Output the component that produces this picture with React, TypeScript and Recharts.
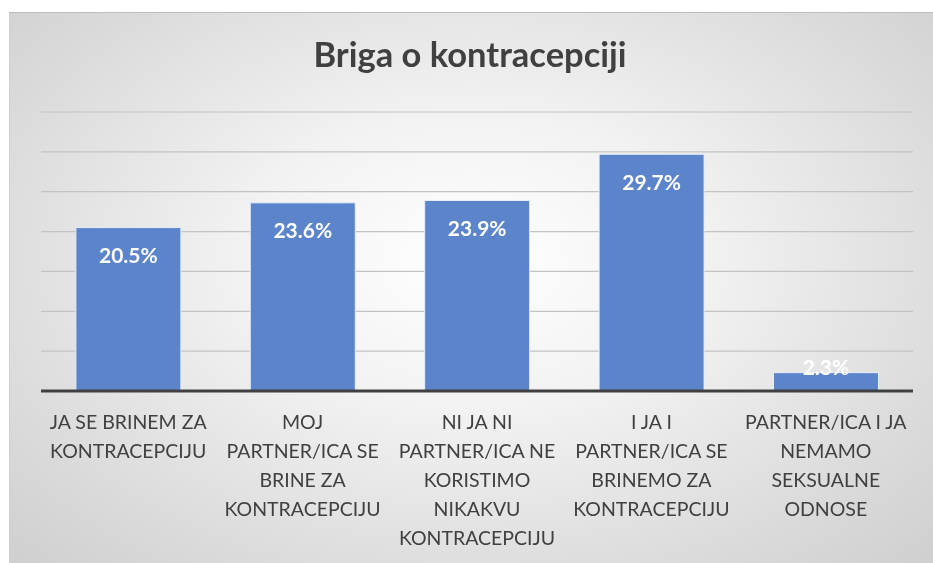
import React from "react";
import { BarChart, Bar, XAxis, YAxis, CartesianGrid, LabelList, ReferenceLine } from "recharts";

const categories = [
  "JA SE BRINEM ZA\nKONTRACEPCIJU",
  "MOJ\nPARTNER/ICA SE\nBRINE ZA\nKONTRACEPCIJU",
  "NI JA NI\nPARTNER/ICA NE\nKORISTIMO\nNIKAKVU\nKONTRACEPCIJU",
  "I JA I\nPARTNER/ICA SE\nBRINEMO ZA\nKONTRACEPCIJU",
  "PARTNER/ICA I JA\nNEMAMO\nSEKSUALNE\nODNOSE",
];
const values = [20.5, 23.6, 23.9, 29.7, 2.3];
const yTicks = [0, 5, 10, 15, 20, 25, 30, 35];
const title = "Briga o kontracepciji";

const data = categories.map((c, i) => ({ name: c, value: values[i] }));

const FONT = "Lato, 'Open Sans', sans-serif";

const CatTick = (props: any) => {
  const { x, y, payload } = props;
  const lines = String(payload.value).split("\n");
  return (
    <g>
      {lines.map((l: string, i: number) => (
        <text key={i} x={x} y={y + 30 + i * 29} textAnchor="middle" fill="#404040" fontSize={19.5} fontFamily={FONT}>
          {l}
        </text>
      ))}
    </g>
  );
};

const ValLabel = (props: any) => {
  const { x, y, width, height, value } = props;
  const bottom = y + height;
  const cy = Math.min(y + 27, bottom - 25);
  return (
    <text x={x + width / 2} y={cy} textAnchor="middle" dominantBaseline="central" fill="#ffffff" fontSize={21} fontWeight={700} fontFamily={FONT}>
      {value.toFixed(1)}%
    </text>
  );
};

export default function App() {
  return (
    <div
      style={{
        position: "fixed",
        left: 9,
        top: 12,
        width: 924,
        height: 551,
        background: "radial-gradient(ellipse at 50% 45%, #ffffff 0%, #f2f2f2 35%, #d9d9d9 80%, #cfcfcf 100%)",
        borderTop: "1px solid #bdbdbd",
        borderLeft: "1px solid #cfcfcf",
        overflow: "hidden",
      }}
    >
      <div
        style={{
          position: "absolute",
          left: 0,
          width: 920,
          top: 20,
          textAlign: "center",
          fontFamily: FONT,
          fontWeight: 700,
          fontSize: 34.5,
          color: "#404040",
        }}
      >
        {title}
      </div>
      <BarChart
        width={924}
        height={551}
        data={data}
        margin={{ top: 99, left: 31, right: 21, bottom: 143 }}
        barCategoryGap="20%"
        style={{ position: "absolute", left: 0, top: 0 }}
      >
        <CartesianGrid vertical={false} stroke="#c3c3c3" strokeWidth={1.2} />
        <YAxis hide domain={[0, 35]} ticks={yTicks} />
        <XAxis dataKey="name" height={30} axisLine={false} tickLine={false} tick={<CatTick />} interval={0} />
        <ReferenceLine y={0} stroke="#404040" strokeWidth={3} />
        <Bar dataKey="value" fill="#5b84cb" stroke="#e8eef8" strokeWidth={1} isAnimationActive={false}>
          <LabelList dataKey="value" content={<ValLabel />} />
        </Bar>
      </BarChart>
    </div>
  );
}
